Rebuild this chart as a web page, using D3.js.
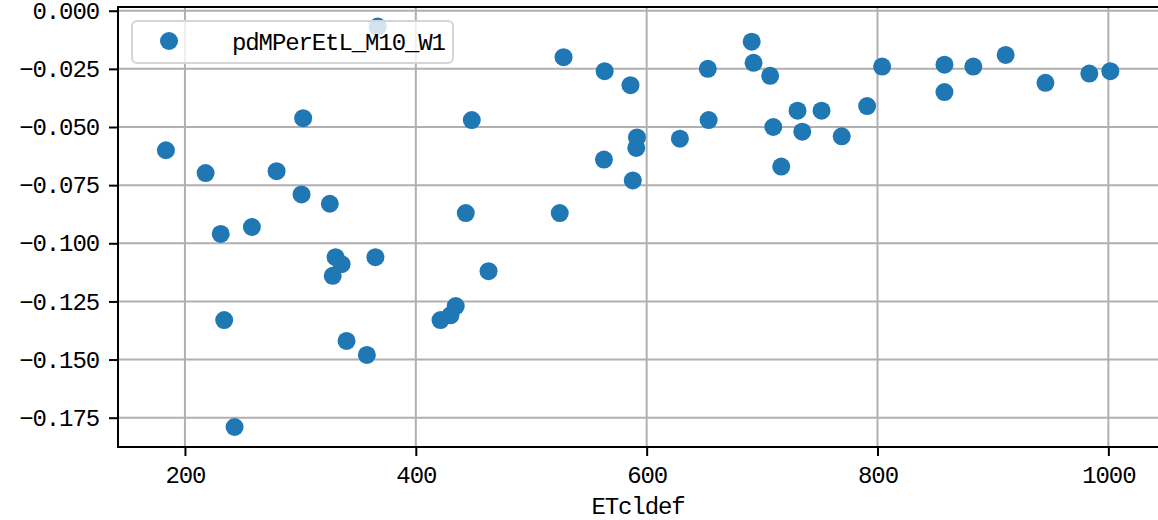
<!DOCTYPE html>
<html><head><meta charset="utf-8">
<script src="https://cdn.jsdelivr.net/npm/d3@7"></script>
<style>body{margin:0;background:#fff}svg{display:block}text{font-family:"Liberation Mono",monospace;fill:#000;letter-spacing:-1.1px}</style>
</head><body><svg id="c" width="1158" height="520"></svg>
<script>
const seriesName = "pdMPerEtL_M10_W1";
const xLabel = "ETcldef";
const xValues = [183.5,217.9,231,234,243,258,279.4,302.4,301,325.5,330.5,335.7,328,340,357.6,365,367,421.4,430,434.6,443.3,448.5,463,524.7,528,563,563.6,586,588,591,591.6,628.8,653,653.7,691,692.6,707,709.7,716.6,730.7,734.8,751.5,769,791,804,858,858,883,911,945.5,983.5,1001.7];
const yValues = [-0.060,-0.0698,-0.096,-0.133,-0.179,-0.093,-0.069,-0.0462,-0.079,-0.083,-0.106,-0.109,-0.114,-0.142,-0.148,-0.106,-0.0068,-0.133,-0.131,-0.127,-0.087,-0.047,-0.112,-0.087,-0.020,-0.064,-0.026,-0.032,-0.073,-0.059,-0.0545,-0.055,-0.025,-0.047,-0.0133,-0.0224,-0.028,-0.050,-0.067,-0.043,-0.052,-0.043,-0.054,-0.041,-0.024,-0.0232,-0.035,-0.024,-0.019,-0.031,-0.027,-0.026];
const xTicks = [200,400,600,800,1000];
const yTicks = [0,-0.025,-0.05,-0.075,-0.1,-0.125,-0.15,-0.175];

const svg = d3.select("#c");
const L=118,R=1158,T=7,B=447;
const FS = "24px";
const x = d3.scaleLinear().domain([142,1043]).range([L,R]);
const y = d3.scaleLinear().domain([-0.1876,0.0016]).range([B,T]);

// grid
const g = svg.append("g");
g.selectAll(".gx").data(xTicks).join("line").attr("x1",d=>x(d)).attr("x2",d=>x(d)).attr("y1",T).attr("y2",B).attr("stroke","#b0b0b0").attr("stroke-width",2);
g.selectAll(".gy").data(yTicks).join("line").attr("x1",L).attr("x2",R).attr("y1",d=>y(d)).attr("y2",d=>y(d)).attr("stroke","#b0b0b0").attr("stroke-width",2);

// points
svg.append("g").selectAll("circle").data(xValues.map((v,i)=>[v,yValues[i]])).join("circle")
  .attr("cx",d=>x(d[0])).attr("cy",d=>y(d[1])).attr("r",9).attr("fill","#1f77b4");

// axes
const xa = svg.append("g").attr("transform",`translate(0,${B})`)
  .call(d3.axisBottom(x).tickValues(xTicks).tickFormat(d3.format("d")).tickSize(9).tickPadding(10).tickSizeOuter(0));
const ya = svg.append("g").attr("transform",`translate(${L},0)`)
  .call(d3.axisLeft(y).tickValues(yTicks).tickFormat(d3.format(".3f")).tickSize(9).tickPadding(10).tickSizeOuter(0));
[xa,ya].forEach(a=>{
  a.select(".domain").remove();
  a.selectAll("line").attr("stroke","#000").attr("stroke-width",2);
  a.selectAll("text").style("font-family","Liberation Mono, monospace").style("font-size",FS).attr("fill","#000");
});
// spines (right spine falls just outside the picture)
svg.append("rect").attr("x",L).attr("y",T).attr("width",R-L+3).attr("height",B-T).attr("fill","none").attr("stroke","#000").attr("stroke-width",2);

// x label
svg.append("text").attr("x",(L+R)/2).attr("y",514).attr("text-anchor","middle").style("font-size",FS).text(xLabel);

// legend
const lg = svg.append("g");
lg.append("rect").attr("x",132).attr("y",21).attr("width",321).attr("height",42).attr("rx",5)
  .attr("fill","#fff").attr("fill-opacity",0.8).attr("stroke","#d5d5d5").attr("stroke-width",2);
lg.append("circle").attr("cx",169).attr("cy",41).attr("r",9).attr("fill","#1f77b4");
lg.append("text").attr("x",232).attr("y",50).style("font-size",FS).text(seriesName);
</script></body></html>
